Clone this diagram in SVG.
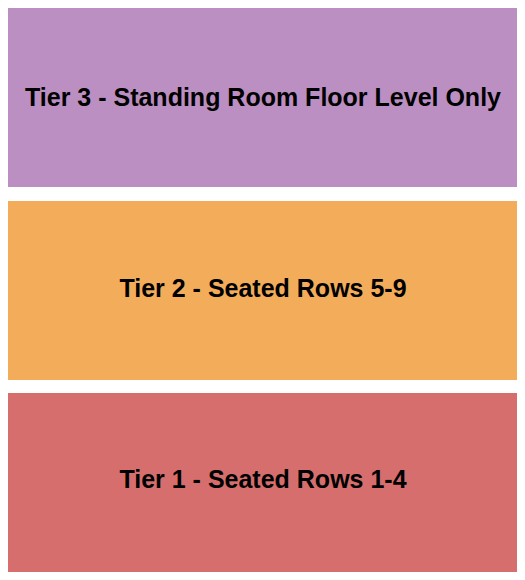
<svg xmlns="http://www.w3.org/2000/svg" width="525" height="580" viewBox="0 0 525 580">
<style>
.lbl{font-family:"Liberation Sans",Arial,sans-serif;font-weight:bold;font-size:25px;fill:#000;text-anchor:middle}
</style>
<rect width="525" height="580" fill="#fff"/>
<g id="tier3"><rect x="8" y="8" width="509" height="179" fill="#BC8FC2"/><text class="lbl" x="263" y="106">Tier 3 - Standing Room Floor Level Only</text></g>
<g id="tier2"><rect x="8" y="201" width="509" height="179" fill="#F3AD5A"/><text class="lbl" x="263" y="297">Tier 2 - Seated Rows 5-9</text></g>
<g id="tier1"><rect x="8" y="393" width="509" height="179" fill="#D76E6E"/><text class="lbl" x="263" y="488">Tier 1 - Seated Rows 1-4</text></g>
<g id="connectors"></g>
</svg>
